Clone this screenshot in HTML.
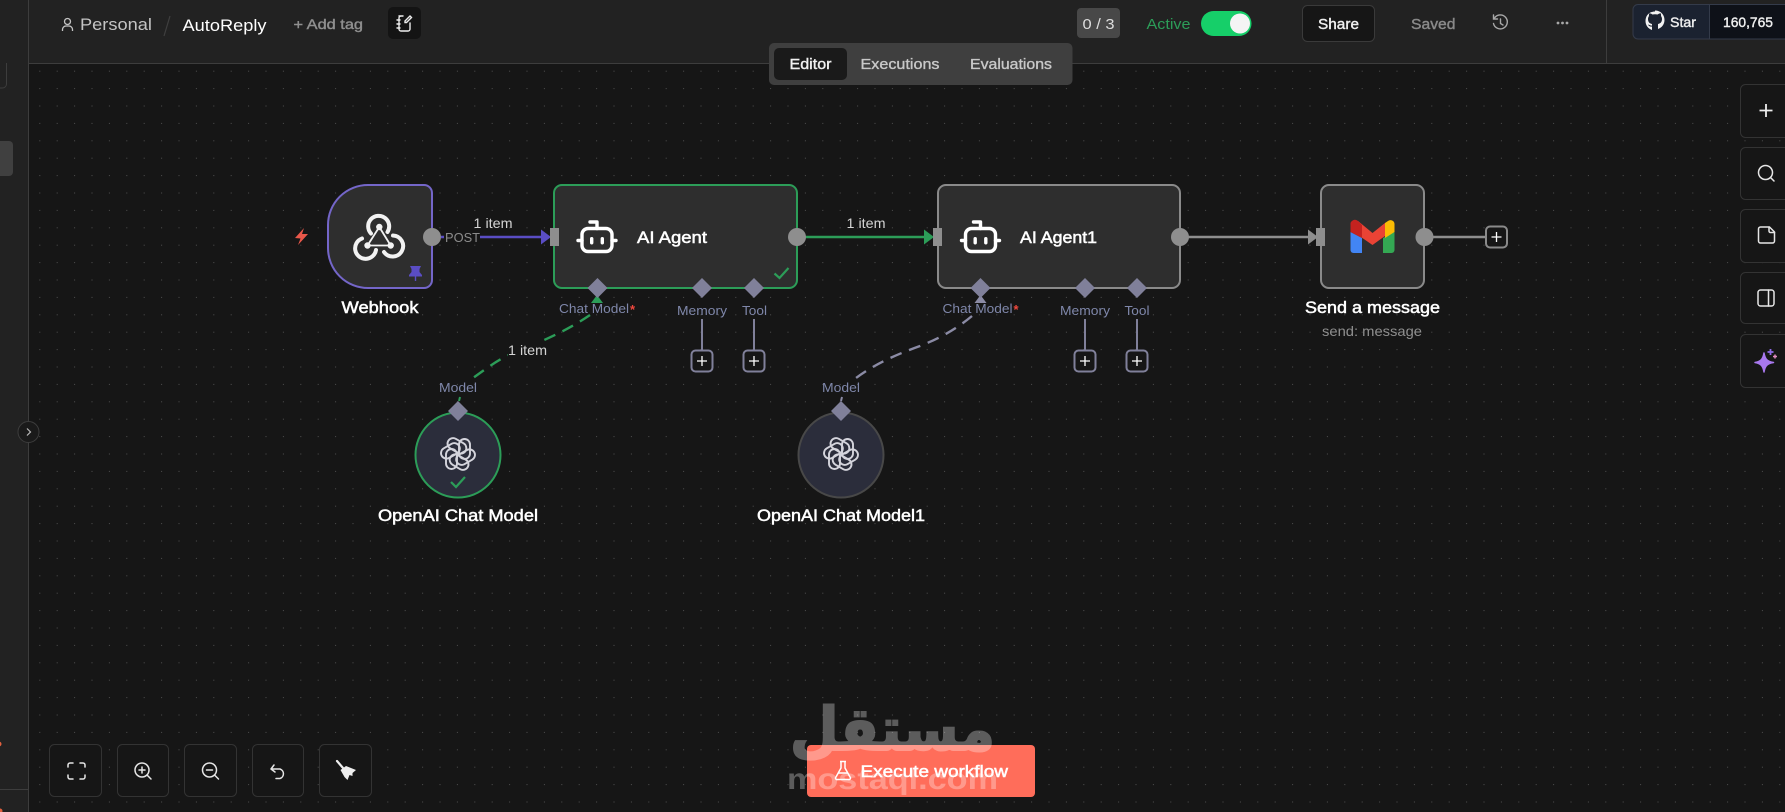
<!DOCTYPE html>
<html><head><meta charset="utf-8"><style>
html,body{margin:0;padding:0;background:#161616;width:1785px;height:812px;overflow:hidden}
svg{display:block}
text{font-family:"Liberation Sans",sans-serif}
.nl{font-size:16.5px;fill:#fff;stroke:#fff;stroke-width:.5px}
.gl{font-size:15px;fill:#f0f0f0;stroke:#f0f0f0;stroke-width:.4px}
.gr{font-size:15px;fill:#c8c8c8;stroke:#c8c8c8;stroke-width:.35px}
.sk{font-size:13px;fill:#7f87aa}
.it{font-size:14px;fill:#d4d4d4}
</style></head><body>
<svg xmlns="http://www.w3.org/2000/svg" width="1785" height="812" viewBox="0 0 1785 812">
<defs>
<pattern id="dots" width="17.4" height="17.4" patternUnits="userSpaceOnUse" patternTransform="translate(4.5 1.1)">
<rect x="0" y="0" width="1" height="1" fill="#505050"/>
</pattern>
<symbol id="robot" overflow="visible">
<g fill="none" stroke="#fff" stroke-width="3.400" stroke-linecap="round" stroke-linejoin="round">
<rect x="-15" y="-8.500" width="30" height="23" rx="6"/>
<path d="M0 -8.500V-15H-7"/>
<path d="M-19 3.500H-15M15 3.500H19"/>
</g>
<rect x="-7" y="0" width="3.400" height="7.500" rx="1.700" fill="#fff"/>
<rect x="3.600" y="0" width="3.400" height="7.500" rx="1.700" fill="#fff"/>
</symbol>
<symbol id="rosette" overflow="visible">
<g fill="none" stroke="#d4d4dc" stroke-width="1.900">
<rect x="1" y="-15" width="11" height="20" rx="5.500"/>
<rect x="1" y="-15" width="11" height="20" rx="5.500" transform="rotate(60)"/>
<rect x="1" y="-15" width="11" height="20" rx="5.500" transform="rotate(120)"/>
<rect x="1" y="-15" width="11" height="20" rx="5.500" transform="rotate(180)"/>
<rect x="1" y="-15" width="11" height="20" rx="5.500" transform="rotate(240)"/>
<rect x="1" y="-15" width="11" height="20" rx="5.500" transform="rotate(300)"/>
</g>
</symbol>
<symbol id="plus" overflow="visible">
<rect x="-10.500" y="-10.500" width="21" height="21" rx="4" fill="#161616" stroke="#80809a" stroke-width="2"/>
<path d="M-5 0H5M0 -5V5" stroke="#fff" stroke-width="1.300"/>
</symbol>
</defs>

<!-- canvas -->
<rect x="0" y="0" width="1785" height="812" fill="#161616"/>
<rect x="29" y="64" width="1756" height="748" fill="url(#dots)"/>

<!-- sidebar -->
<rect x="0" y="0" width="29" height="812" fill="#222"/>
<rect x="28" y="0" width="1" height="812" fill="#3d3d3d"/>
<circle cx="2" cy="14.500" r="3.600" fill="none" stroke="#e9584a" stroke-width="2.400"/>
<circle cx="-1" cy="26" r="3.500" fill="#e9584a"/>
<rect x="-10" y="51" width="16.500" height="37" rx="4" fill="none" stroke="#3d3d3d"/>
<rect x="-10" y="141" width="23" height="35" rx="4" fill="#404040"/>
<circle cx="-1" cy="744" r="2.500" fill="#e0603f"/>
<rect x="0" y="789" width="28" height="1" fill="#3d3d3d"/>
<circle cx="0" cy="811" r="2.500" fill="#e0603f"/>

<!-- header -->
<rect x="0" y="0" width="1785" height="63" fill="#222"/>
<rect x="28" y="0" width="1" height="64" fill="#3d3d3d"/>
<rect x="29" y="63" width="1756" height="1" fill="#3d3d3d"/>
<rect x="1606" y="0" width="1" height="63" fill="#3d3d3d"/>
<g fill="none" stroke="#c4c4c4" stroke-width="1.300">
<circle cx="67.500" cy="21.500" r="3"/>
<path d="M62.500 31v-1.500a3.500 3.500 0 0 1 3.500-3.500h3a3.500 3.500 0 0 1 3.500 3.500V31"/>
</g>
<text x="80" y="30" font-size="17" fill="#c4c4c4" textLength="72" lengthAdjust="spacingAndGlyphs">Personal</text>
<path d="M170 16L164 36" stroke="#3f3f3f" stroke-width="1.200"/>
<text x="182.500" y="31" font-size="17" fill="#fff" textLength="84" lengthAdjust="spacingAndGlyphs">AutoReply</text>
<text x="293.500" y="29" font-size="14" fill="#8f8f8f" stroke="#8f8f8f" stroke-width=".4" textLength="69.500" lengthAdjust="spacingAndGlyphs">+ Add tag</text>
<rect x="388" y="7" width="33" height="32" rx="5" fill="#141414"/>
<g fill="none" stroke="#eee" stroke-width="1.400" stroke-linecap="round">
<path d="M399 16h4M410 23v6a2 2 0 0 1-2 2h-7a2 2 0 0 1-2-2V18a2 2 0 0 1 2-2"/>
<path d="M397 20h3M397 24h3M397 28h3"/>
<path d="M405 21l5-5 1.500 1.500-5 5h-1.500z"/>
</g>

<rect x="1077" y="8" width="43" height="30" rx="4" fill="#484848"/>
<text x="1098.500" y="29" font-size="15" fill="#ddd" text-anchor="middle" textLength="32" lengthAdjust="spacingAndGlyphs">0 / 3</text>
<text x="1146.500" y="29" font-size="15" fill="#2c9d58" textLength="44" lengthAdjust="spacingAndGlyphs">Active</text>
<rect x="1201" y="11" width="50.500" height="25" rx="12.500" fill="#16cf69"/>
<circle cx="1240" cy="23.500" r="10" fill="#f4f4f4"/>
<rect x="1302.500" y="5.500" width="72" height="36" rx="5" fill="#161616" stroke="#3a3a3a"/>
<text class="gl" x="1338.500" y="29" text-anchor="middle" textLength="41" lengthAdjust="spacingAndGlyphs">Share</text>
<text x="1411" y="29" font-size="15" fill="#8a8a8a" stroke="#8a8a8a" stroke-width=".4" textLength="44.500" lengthAdjust="spacingAndGlyphs">Saved</text>
<g fill="none" stroke="#a8a8a8" stroke-width="1.400" stroke-linecap="round">
<path d="M1494.500 18a7 7 0 1 1-1 5.500"/><path d="M1493.500 15v4h4"/><path d="M1500.500 19v4.500l2.500 1.500"/>
</g>
<g fill="#a8a8a8"><circle cx="1558" cy="23" r="1.400"/><circle cx="1562.500" cy="23" r="1.400"/><circle cx="1567" cy="23" r="1.400"/></g>

<path d="M1638 4.500H1785V39H1638a5 5 0 0 1-5-5V9.500a5 5 0 0 1 5-5z" fill="#1b2230" stroke="#343b4a"/>
<rect x="1709" y="5" width="76" height="33.500" fill="#0e1118"/>
<rect x="1709" y="5" width="1" height="33.500" fill="#343b4a"/>
<path d="M1655 11.500c-5.500 0-9.500 4-9.500 9.500 0 4.200 2.700 7.700 6.500 9v-3.500c-2.500.5-3.500-1-4-2 2 .5 3 1.500 4 1v-1.500c-2.500-.5-4-2-4-5 0-1.200.4-2.200 1-3-.2-1 0-2 .4-2.700 1 0 2 .5 3 1.200.8-.2 1.700-.3 2.600-.3s1.800.1 2.600.3c1-.7 2-1.200 3-1.200.4.700.6 1.700.4 2.700.6.800 1 1.800 1 3 0 3-1.500 4.500-4 5v5c3.800-1.300 6.500-4.800 6.500-9 0-5.500-4-9.500-9.500-9.500z" fill="#f2f2f2"/>
<text x="1670" y="27" font-size="14" fill="#eee" stroke="#eee" stroke-width=".4" textLength="26" lengthAdjust="spacingAndGlyphs">Star</text>
<text x="1723" y="27" font-size="14" fill="#eee" stroke="#eee" stroke-width=".4" textLength="50" lengthAdjust="spacingAndGlyphs">160,765</text>

<!-- tabs -->
<rect x="769" y="43" width="303.500" height="42" rx="5" fill="#3f3f3f"/>
<rect x="774" y="48" width="73" height="32" rx="5" fill="#1a1a1a"/>
<text class="gl" x="810.500" y="69" text-anchor="middle" textLength="42" lengthAdjust="spacingAndGlyphs">Editor</text>
<text class="gr" x="900" y="69" text-anchor="middle" textLength="79" lengthAdjust="spacingAndGlyphs">Executions</text>
<text class="gr" x="1011" y="69" text-anchor="middle" textLength="82" lengthAdjust="spacingAndGlyphs">Evaluations</text>

<!-- collapse -->
<circle cx="28.500" cy="432" r="10.500" fill="#1a1a1a" stroke="#3d3d3d"/>
<path d="M27 428.500l3.500 3.500-3.500 3.500" fill="none" stroke="#bbb" stroke-width="1.200"/>

<!-- connectors -->
<path d="M441 237h3M480 237h62" stroke="#5a4dc4" stroke-width="2.400" fill="none"/>
<path d="M541 229.500L551 237L541 244.500Z" fill="#5a4dc4"/>
<path d="M797 237H925" stroke="#2c9d58" stroke-width="2.400"/>
<path d="M924 229.500L934 237L924 244.500Z" fill="#2c9d58"/>
<path d="M1180 237H1308" stroke="#8e8e8e" stroke-width="2.400"/>
<path d="M1308 229.500L1318 237L1308 244.500Z" fill="#8e8e8e"/>
<path d="M1424 237H1485" stroke="#8e8e8e" stroke-width="2.400"/>

<path d="M590 315C565 332 540 342 516 352C500 358 487 368 473 378" fill="none" stroke="#2c9d58" stroke-width="2.400" stroke-dasharray="12 8"/>
<path d="M460 397L459 401" stroke="#2c9d58" stroke-width="2"/>
<path d="M591 303L597 295L603 303Z" fill="#2c9d58"/>
<path d="M972 316C955 330 940 338 920 346C895 355 875 364 856 378" fill="none" stroke="#8b8ba5" stroke-width="2.400" stroke-dasharray="12 8"/>
<path d="M842 397L841 401" stroke="#8b8ba5" stroke-width="2"/>
<path d="M974.500 303L980.500 295L986.500 303Z" fill="#8b8ba5"/>

<g stroke="#80809a" stroke-width="2">
<path d="M702 319V351M754 319V351M1085 319V351M1137 319V351"/>
</g>

<!-- webhook -->
<path d="M368 185H424a8 8 0 0 1 8 8V280a8 8 0 0 1-8 8H368A40 40 0 0 1 328 248V225A40 40 0 0 1 368 185Z" fill="#2e2e2e" stroke="#7466c9" stroke-width="2"/>
<g fill="none" stroke="#f2f2f2" stroke-linecap="round">
<path d="M379.300 227L367.500 245.500H390.700L379.300 227" stroke-width="1.800"/>
<path d="M371 233.500A10.500 10.500 0 1 1 387.500 232" stroke-width="4"/>
<path d="M362 238.500A10.500 10.500 0 1 0 376 250" stroke-width="4"/>
<path d="M393 235.500A10.500 10.500 0 1 1 384 252" stroke-width="4"/>
</g>
<circle cx="379.300" cy="227" r="3.200" fill="#f2f2f2"/><circle cx="367.500" cy="245.500" r="3.200" fill="#f2f2f2"/><circle cx="390.700" cy="245.500" r="3.200" fill="#f2f2f2"/>
<g fill="#5a4dc4"><path d="M410 266H421L419.500 269V272L422 275V276.500H409V275L411.500 272V269Z"/><rect x="414.800" y="276" width="1.400" height="5"/></g>
<path d="M304 228L295 238L300.500 238.500L298 245L308 234L302 234Z" fill="#e9584a"/>
<text class="nl" x="380" y="313" text-anchor="middle" textLength="77" lengthAdjust="spacingAndGlyphs">Webhook</text>
<text x="445" y="242" font-size="13" fill="#8c8c8c" textLength="35" lengthAdjust="spacingAndGlyphs">POST</text>
<text class="it" x="493" y="228" text-anchor="middle" textLength="39" lengthAdjust="spacingAndGlyphs">1 item</text>
<circle cx="432" cy="237" r="9" fill="#8e8e8e"/>

<!-- AI Agent -->
<rect x="554" y="185" width="243" height="103" rx="8" fill="#2e2e2e" stroke="#2c9d58" stroke-width="2"/>
<rect x="550" y="228" width="9" height="18" fill="#8e8e8e"/>
<use href="#robot" x="597" y="237"/>
<text class="nl" x="637" y="243" textLength="70" lengthAdjust="spacingAndGlyphs">AI Agent</text>
<circle cx="797" cy="237" r="9" fill="#8e8e8e"/>
<path d="M774.500 273.500l5 4.500 9-10" fill="none" stroke="#2c9d58" stroke-width="2.200"/>
<path d="M597.500 278l10 10-10 10-10-10zM702 278l10 10-10 10-10-10zM754 278l10 10-10 10-10-10z" fill="#80809a"/>
<text class="sk" x="559" y="313" textLength="70" lengthAdjust="spacingAndGlyphs">Chat Model</text>
<text x="630" y="314" font-size="13" font-weight="bold" fill="#f0483e">*</text>
<text class="sk" x="702" y="315" text-anchor="middle" textLength="50" lengthAdjust="spacingAndGlyphs">Memory</text>
<text class="sk" x="754.500" y="315" text-anchor="middle" textLength="25" lengthAdjust="spacingAndGlyphs">Tool</text>
<use href="#plus" x="702" y="361"/>
<use href="#plus" x="754" y="361"/>

<text class="it" x="866" y="228" text-anchor="middle" textLength="39" lengthAdjust="spacingAndGlyphs">1 item</text>

<!-- AI Agent1 -->
<rect x="938" y="185" width="242" height="103" rx="8" fill="#2e2e2e" stroke="#8a8a8a" stroke-width="2"/>
<rect x="933" y="228" width="9" height="18" fill="#8e8e8e"/>
<use href="#robot" x="980.500" y="237"/>
<text class="nl" x="1020" y="243" textLength="77" lengthAdjust="spacingAndGlyphs">AI Agent1</text>
<circle cx="1180" cy="237" r="9" fill="#8e8e8e"/>
<path d="M980.500 278l10 10-10 10-10-10zM1085 278l10 10-10 10-10-10zM1137 278l10 10-10 10-10-10z" fill="#80809a"/>
<text class="sk" x="942.500" y="313" textLength="70" lengthAdjust="spacingAndGlyphs">Chat Model</text>
<text x="1013.500" y="314" font-size="13" font-weight="bold" fill="#f0483e">*</text>
<text class="sk" x="1085" y="315" text-anchor="middle" textLength="50" lengthAdjust="spacingAndGlyphs">Memory</text>
<text class="sk" x="1137" y="315" text-anchor="middle" textLength="25" lengthAdjust="spacingAndGlyphs">Tool</text>
<use href="#plus" x="1085" y="361"/>
<use href="#plus" x="1137" y="361"/>

<!-- Gmail -->
<rect x="1321" y="185" width="103" height="103" rx="8" fill="#2e2e2e" stroke="#8a8a8a" stroke-width="2"/>
<rect x="1316" y="228" width="9" height="18" fill="#8e8e8e"/>
<path d="M1350.500 232L1362 238V253H1353.500a3 3 0 0 1-3-3Z" fill="#4285f4"/>
<path d="M1394.500 232L1383 238V253H1391.500a3 3 0 0 0 3-3Z" fill="#34a853"/>
<path d="M1358 221L1372.500 233L1385 223V236L1372.500 245L1358 235Z" fill="#ea4335"/>
<path d="M1385 223L1388 221A4 4 0 0 1 1394.500 224V232L1385 238Z" fill="#fbbc04"/>
<path d="M1350.500 232V225A4.500 4.500 0 0 1 1358 221L1362 225V238Z" fill="#c5221f"/>
<circle cx="1424.500" cy="237" r="9" fill="#8e8e8e"/>
<text class="nl" x="1372.500" y="313" text-anchor="middle" textLength="135" lengthAdjust="spacingAndGlyphs">Send a message</text>
<text x="1372" y="336" font-size="14" fill="#8f8f8f" text-anchor="middle" textLength="100" lengthAdjust="spacingAndGlyphs">send: message</text>
<g transform="translate(1496.500 237)"><rect x="-10.500" y="-10.500" width="21" height="21" rx="4" fill="#161616" stroke="#8a8a8a" stroke-width="2"/><path d="M-5 0H5M0 -5V5" stroke="#fff" stroke-width="1.300"/></g>

<!-- OpenAI nodes -->
<circle cx="458" cy="455" r="42.500" fill="#2b2d3b" stroke="#2c9d58" stroke-width="2"/>
<use href="#rosette" x="458" y="454"/>
<path d="M451 482l5 5 9-10" fill="none" stroke="#2c9d58" stroke-width="2.200"/>
<path d="M458 401l10 10-10 10-10-10z" fill="#80809a"/>
<text class="sk" x="458" y="392" text-anchor="middle" textLength="38" lengthAdjust="spacingAndGlyphs">Model</text>
<text class="nl" x="458" y="521" text-anchor="middle" textLength="160" lengthAdjust="spacingAndGlyphs">OpenAI Chat Model</text>
<rect x="508" y="342" width="39" height="16" fill="#161616"/>
<text class="it" x="527.500" y="355" text-anchor="middle" textLength="39" lengthAdjust="spacingAndGlyphs">1 item</text>

<circle cx="841" cy="455" r="42.500" fill="#2b2d3b" stroke="#484848" stroke-width="2"/>
<use href="#rosette" x="841" y="454"/>
<path d="M841 401l10 10-10 10-10-10z" fill="#80809a"/>
<text class="sk" x="841" y="392" text-anchor="middle" textLength="38" lengthAdjust="spacingAndGlyphs">Model</text>
<text class="nl" x="841" y="521" text-anchor="middle" textLength="168" lengthAdjust="spacingAndGlyphs">OpenAI Chat Model1</text>

<!-- right tools -->
<g fill="#161616" stroke="#333">
<rect x="1740.500" y="84.500" width="70" height="53" rx="5"/>
<rect x="1740.500" y="147.500" width="70" height="52" rx="5"/>
<rect x="1740.500" y="209.500" width="70" height="53" rx="5"/>
<rect x="1740.500" y="272.500" width="70" height="51" rx="5"/>
<rect x="1740.500" y="334.500" width="70" height="53" rx="5"/>
</g>
<path d="M1766 104V117M1759.500 110.500H1772.500" stroke="#eee" stroke-width="1.800"/>
<g fill="none" stroke="#e6e6e6" stroke-width="1.500" stroke-linecap="round" stroke-linejoin="round">
<circle cx="1765.500" cy="172.500" r="7"/><path d="M1770.500 177.500L1774 181"/>
<path d="M1760.500 227h9l5 5v9a2 2 0 0 1-2 2h-12a2 2 0 0 1-2-2v-12a2 2 0 0 1 2-2z"/><path d="M1769 227v4a1.500 1.500 0 0 0 1.500 1.500h4"/>
<rect x="1758" y="290" width="16" height="16" rx="2.500"/><path d="M1768.500 290V306"/>
</g>
<path d="M1764 353C1765 359 1767 361.500 1773.500 362.500C1767 363.500 1765 366 1764 372C1763 366 1761 363.500 1755 362.500C1761 361.500 1763 359 1764 353Z" fill="#a878ee" stroke="#a878ee" stroke-width="1.500" stroke-linejoin="round"/>
<path d="M1770.500 349v6M1767.500 352h6" stroke="#8f6be8" stroke-width="1.800"/>
<path d="M1775 354.500v4M1773 356.500h4" stroke="#e08ac0" stroke-width="1.500"/>

<!-- bottom tools -->
<g fill="#161616" stroke="#333">
<rect x="49.500" y="744.500" width="52" height="52" rx="5"/>
<rect x="117.500" y="744.500" width="51" height="52" rx="5"/>
<rect x="184.500" y="744.500" width="52" height="52" rx="5"/>
<rect x="252.500" y="744.500" width="51" height="52" rx="5"/>
<rect x="319.500" y="744.500" width="52" height="52" rx="5"/>
</g>
<g fill="none" stroke="#e6e6e6" stroke-width="1.500" stroke-linecap="round" stroke-linejoin="round">
<path d="M68 767v-2a2 2 0 0 1 2-2h3M80 763h3a2 2 0 0 1 2 2v2M85 775v2a2 2 0 0 1-2 2h-3M73 779h-3a2 2 0 0 1-2-2v-2"/>
<circle cx="142" cy="770" r="7"/><path d="M147 775L151 779M142 767V773M139 770H145"/>
<circle cx="209.500" cy="770" r="7"/><path d="M214.500 775L218.500 779M206.500 770H212.500"/>
<path d="M274 765L271 769L275 772M271 769H280A5 5 0 0 1 280 778.500H276"/>
</g>
<path d="M337 761L343 768" stroke="#eee" stroke-width="2.200" stroke-linecap="round"/>
<path d="M340.500 770L346 766L356 770L352.500 773L352.500 776L349.500 775L347.500 780L344.500 777Z" fill="#eee"/>

<!-- execute -->
<rect x="807" y="745" width="228" height="52" rx="4" fill="#ff6d5a"/>
<g fill="none" stroke="#fff" stroke-width="1.500" stroke-linejoin="round"><path d="M840 761.500h6M841 762v6l-5 9a1.500 1.500 0 0 0 1.500 2.500h11a1.500 1.500 0 0 0 1.500-2.500l-5-9v-6"/><path d="M838 773h10"/></g>
<text class="nl" x="860.500" y="777" textLength="147.500" lengthAdjust="spacingAndGlyphs">Execute workflow</text>

<!-- watermark -->
<g opacity=".3">
<text x="892.500" y="750" font-size="60" font-weight="bold" fill="#fff" stroke="#fff" stroke-width="2" text-anchor="middle" direction="rtl" style="font-family:'DejaVu Sans',sans-serif" textLength="205" lengthAdjust="spacingAndGlyphs">مستقل</text>
<text x="787" y="789" font-size="30" font-weight="bold" fill="#fff" textLength="211" lengthAdjust="spacingAndGlyphs">mostaql.com</text>
</g>
</svg>
</body></html>
